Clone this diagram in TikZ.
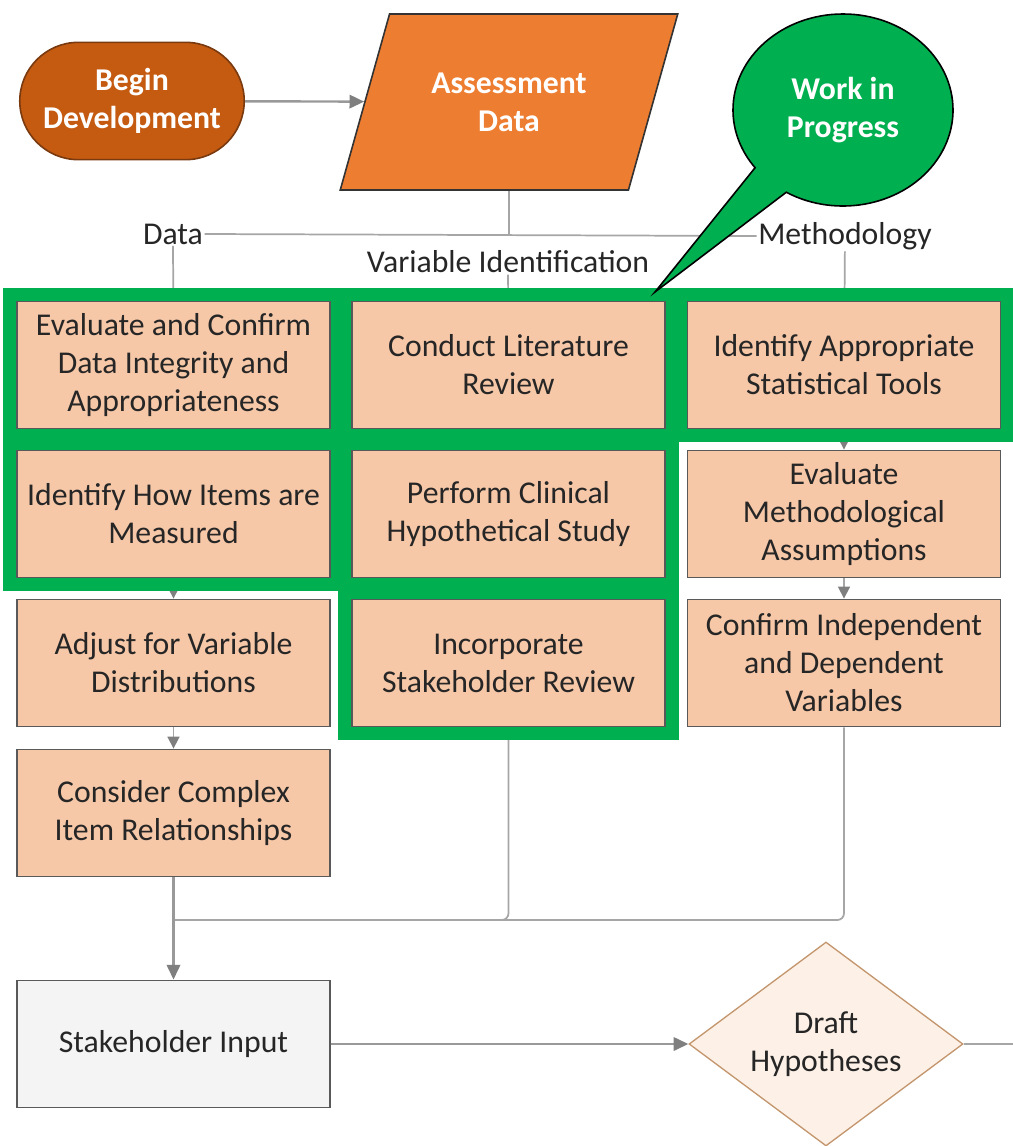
\documentclass[tikz,border=0pt]{standalone}
\usepackage{fontspec}
\setmainfont{Carlito}
\usetikzlibrary{shapes.geometric,shapes.misc,shapes.callouts,arrows.meta,fit}

\definecolor{beginfill}{HTML}{C55A11}
\definecolor{beginline}{HTML}{7A3A10}
\definecolor{assessfill}{HTML}{ED7D31}
\definecolor{stepfill}{HTML}{F6C8A8}
\definecolor{wipgreen}{HTML}{00B050}
\definecolor{linegray}{HTML}{A6A6A6}
\definecolor{arrowgray}{HTML}{7F7F7F}
\definecolor{txtgray}{HTML}{262626}
\definecolor{draftfill}{HTML}{FDF1E7}
\definecolor{draftline}{HTML}{C4966E}
\definecolor{inputfill}{HTML}{F4F4F4}

\begin{document}
\begin{tikzpicture}[x=0.75pt,y=-0.75pt,
  font=\fontsize{23.8}{28.5}\selectfont,
  stepbox/.style={draw=black!65, line width=1.4pt, fill=stepfill, text=txtgray,
    align=center, minimum width=234.75pt, minimum height=95.25pt, inner sep=0pt},
  flow/.style={draw=linegray, line width=1.3pt},
  arrow/.style={flow, -{Triangle[length=9pt,width=9pt,color=arrowgray]}},
  bigarrow/.style={flow, line width=1.8pt, draw=arrowgray!80, -{Triangle[length=11pt,width=10pt,color=arrowgray]}},
  lbl/.style={text=txtgray, inner sep=1pt},
  wip/.style={draw=wipgreen, line width=9.75pt, inner sep=4.875pt}
]
% Fix the page to the reference size
\useasboundingbox (0,0) rectangle (1013,1146);

% Start and data input
\node[rounded rectangle, draw=beginline, line width=1.2pt, fill=beginfill, text=white,
  font=\fontsize{23.8}{28.5}\selectfont\bfseries, align=center,
  minimum width=175pt, minimum height=88pt] (begin) at (132,101) {Begin\\Development};
\node[trapezium, trapezium left angle=63.4, trapezium right angle=116.6,
  trapezium stretches=true, minimum width=253.5pt, minimum height=132pt,
  draw=black!80, line width=1.2pt, fill=assessfill, text=white,
  font=\fontsize{23.8}{28.5}\selectfont\bfseries, align=center] (assess) at (509,102) {Assessment\\Data};
\draw[bigarrow] (begin) -- (assess);

% Branch labels
\node[lbl] (data) at (173,234) {Data};
\node[lbl] (varid) at (508,262) {Variable Identification};
\node[lbl] (meth) at (845,236) {Methodology};
\draw[flow] (data.east) -- (meth.west);
\draw[flow] (assess.south) -- (assess.south |- data.east);

% Data column
\node[stepbox] (left1) at (173.5,365) {Evaluate and Confirm\\Data Integrity and\\Appropriateness};
\node[stepbox] (left2) at (173.5,514) {Identify How Items are\\Measured};
\node[stepbox] (left3) at (173.5,663) {Adjust for Variable\\Distributions};
\node[stepbox] (left4) at (173.5,813) {Consider Complex\\Item Relationships};

% Variable identification column
\node[stepbox] (mid1) at (508.5,365) {Conduct Literature\\Review};
\node[stepbox] (mid2) at (508.5,514) {Perform Clinical\\Hypothetical Study};
\node[stepbox] (mid3) at (508.5,663) {Incorporate\\Stakeholder Review};

% Methodology column
\node[stepbox] (right1) at (844,365) {Identify Appropriate\\Statistical Tools};
\node[stepbox] (right2) at (844,514) {Evaluate\\Methodological\\Assumptions};
\node[stepbox] (right3) at (844,663) {Confirm Independent\\and Dependent\\Variables};

\draw[arrow] (data) -- (left1);
\draw[arrow] (left1) -- (left2);
\draw[arrow] (left2) -- (left3);
\draw[arrow] (left3) -- (left4);
\draw[arrow] (varid) -- (mid1);
\draw[arrow] (mid1) -- (mid2);
\draw[arrow] (mid2) -- (mid3);
\draw[arrow] (meth) -- (right1);
\draw[arrow] (right1) -- (right2);
\draw[arrow] (right2) -- (right3);

% Merge into stakeholder input
\node[stepbox, fill=inputfill] (stake) at (173.5,1044) {Stakeholder Input};
\node[diamond, aspect=1.34, minimum width=205.5pt, minimum height=153pt, inner sep=0pt,
  draw=draftline, line width=1pt, fill=draftfill, text=txtgray, align=center] (draft) at (826,1044) {Draft\\Hypotheses};
\coordinate (join) at (173.5,920);
\coordinate (next) at (1013,1044);
\draw[flow, rounded corners=5pt] (mid3.south) |- (join);
\draw[flow, rounded corners=5pt] (right3.south) |- (join);
\draw[bigarrow] (left4) -- (stake);
\draw[bigarrow] (stake) -- (draft);
\draw[flow, line width=1.6pt] (draft) -- (next);

% Work in progress frames
\node[wip, fit=(left1)] (wip1) {};
\node[wip, fit=(mid1)] (wip2) {};
\node[wip, fit=(right1)] (wip3) {};
\node[wip, fit=(left2)] (wip4) {};
\node[wip, fit=(mid2)] (wip5) {};
\node[wip, fit=(mid3)] (wip6) {};

\node[ellipse callout, callout absolute pointer={(655,292)}, callout pointer arc=22,
  draw=black, line width=1.2pt, fill=wipgreen, text=white,
  font=\fontsize{23.8}{28.5}\selectfont\bfseries, align=center,
  minimum width=165pt, minimum height=144pt, inner sep=0pt] (note) at (843,110) {Work in\\Progress};
\end{tikzpicture}
\end{document}
